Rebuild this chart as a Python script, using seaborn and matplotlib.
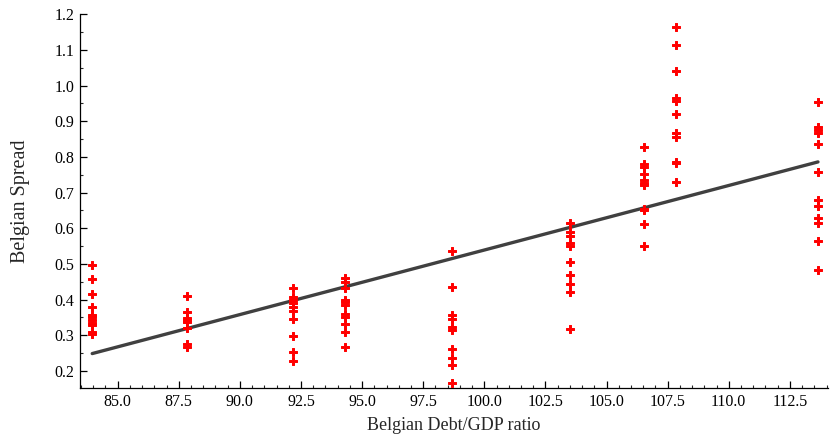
import numpy as np
import pandas as pd
import matplotlib
matplotlib.use("Agg")
import matplotlib.pyplot as plt
import seaborn as sns
from matplotlib.ticker import MultipleLocator, FormatStrFormatter

# Debt/GDP ratio for each annual cluster
debt_levels = [83.96, 87.85, 92.18, 94.31, 98.69, 103.52, 106.53, 107.84, 113.65]

# Spread observations in each cluster
spreads = [
    [0.498, 0.457, 0.415, 0.379, 0.356, 0.350, 0.342, 0.335, 0.328, 0.308, 0.303],
    [0.410, 0.365, 0.347, 0.342, 0.338, 0.319, 0.275, 0.267],
    [0.433, 0.408, 0.399, 0.389, 0.380, 0.368, 0.344, 0.297, 0.252, 0.228],
    [0.460, 0.448, 0.433, 0.399, 0.392, 0.385, 0.359, 0.352, 0.331, 0.308, 0.267],
    [0.535, 0.436, 0.356, 0.344, 0.324, 0.314, 0.260, 0.235, 0.216, 0.166],
    [0.616, 0.588, 0.578, 0.558, 0.550, 0.504, 0.469, 0.444, 0.421, 0.317],
    [0.828, 0.781, 0.773, 0.753, 0.736, 0.728, 0.721, 0.654, 0.650, 0.611, 0.550],
    [1.165, 1.115, 1.040, 0.965, 0.956, 0.920, 0.867, 0.857, 0.787, 0.783, 0.731],
    [0.954, 0.885, 0.876, 0.867, 0.836, 0.758, 0.679, 0.661, 0.630, 0.614, 0.563, 0.483],
]

x_label = "Belgian Debt/GDP ratio"
y_label = "Belgian Spread"

rows = []
for d, vals in zip(debt_levels, spreads):
    for v in vals:
        rows.append({"debt": d, "spread": v})
df = pd.DataFrame(rows)

sns.set_style("ticks")
plt.rcParams["font.family"] = ["Liberation Serif", "DejaVu Serif"]

fig = plt.figure(figsize=(8.3, 4.44), dpi=100)
ax = fig.add_axes([80 / 830, 1 - 388.3 / 444, (828 - 80) / 830, (388.3 - 14.3) / 444])

sns.regplot(data=df, x="debt", y="spread", scatter=False, ci=None, ax=ax,
            line_kws={"color": "#404040", "lw": 2.4})
sns.scatterplot(data=df, x="debt", y="spread", ax=ax, marker="P", s=38,
                color="#ff0000", edgecolor="#ff0000", linewidth=0.7, zorder=3)

ax.set_xlim(83.46, 114.06)
ax.set_ylim(0.151, 1.2)
ax.xaxis.set_major_locator(MultipleLocator(2.5))
ax.xaxis.set_minor_locator(MultipleLocator(0.5))
ax.yaxis.set_major_locator(MultipleLocator(0.1))
ax.yaxis.set_minor_locator(MultipleLocator(0.05))
ax.xaxis.set_major_formatter(FormatStrFormatter("%.1f"))
ax.yaxis.set_major_formatter(FormatStrFormatter("%.1f"))
ax.tick_params(which="major", direction="in", length=5, width=0.9, labelsize=11.5,
               colors="#000000", pad=4)
ax.tick_params(which="minor", direction="in", length=2.5, width=0.8)
sns.despine(ax=ax)
for s in ["left", "bottom"]:
    ax.spines[s].set_linewidth(0.9)
    ax.spines[s].set_color("#000000")

ax.set_xlabel(x_label, fontsize=13, labelpad=5)
ax.set_ylabel(y_label, fontsize=14.5, labelpad=18)

fig.savefig("out.png", dpi=100)
